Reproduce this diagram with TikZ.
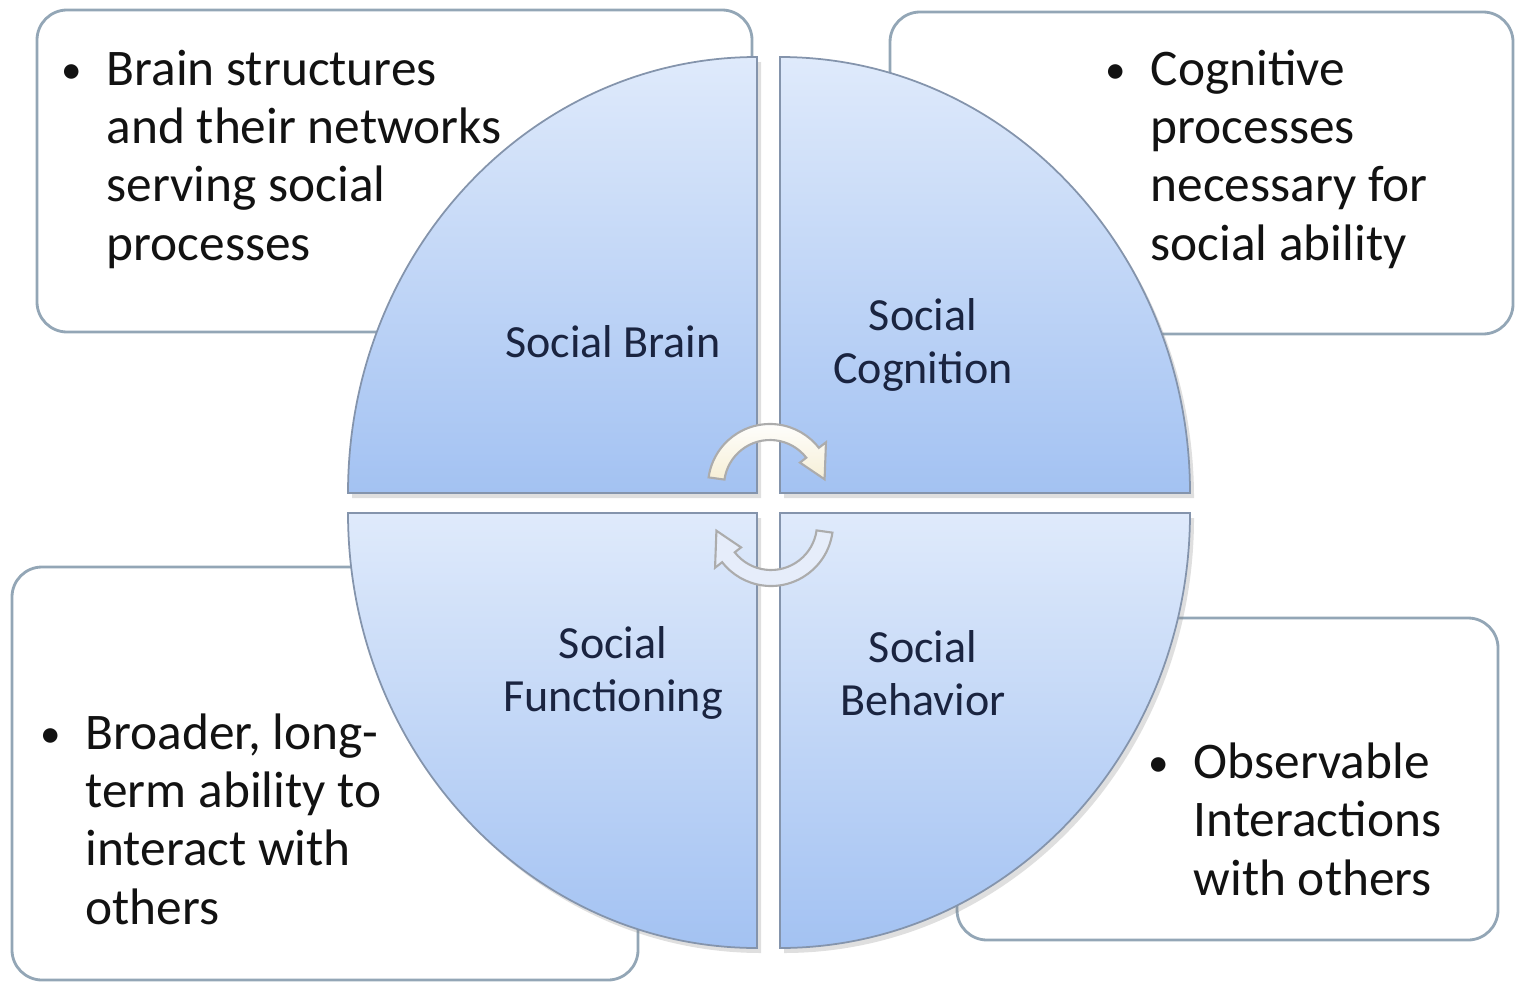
\documentclass[tikz,border=0pt]{standalone}
\usepackage{fontspec}
\setmainfont{Carlito}
\usetikzlibrary{shadows}

\definecolor{quadtop}{HTML}{DFEAFB}
\definecolor{quadbot}{HTML}{A3C2F2}
\definecolor{quadline}{HTML}{8494AC}
\definecolor{boxline}{HTML}{93A6B6}
\definecolor{labelcol}{HTML}{1A2440}
\definecolor{notecol}{HTML}{121212}
\definecolor{cream}{HTML}{F6EFD6}
\definecolor{paleblue}{HTML}{E6EDFA}

\newcommand{\notebullet}{\llap{\raisebox{0.6pt}{\scalebox{0.8}{\textbullet}}\hspace{7pt}}}

\begin{document}
\begin{tikzpicture}[x=0.01cm, y=0.01cm,
  box/.style={draw=boxline, fill=white, line width=0.8pt, rounded corners=0.3cm},
  quad/.style={draw=quadline, line width=0.5pt, top color=quadtop, bottom color=quadbot,
    drop shadow={opacity=0.25, shadow xshift=0.4mm, shadow yshift=-0.5mm}},
  notetext/.style={anchor=base west, align=left, inner sep=0pt, text=notecol,
    font=\fontsize{14.6pt}{16.5pt}\selectfont},
  quadtext/.style={align=center, inner sep=0pt, text=labelcol,
    font=\fontsize{13.1pt}{15pt}\selectfont},
  cyclearrow/.style={draw=gray!65, line width=0.6pt}]
\useasboundingbox (0,0) rectangle (1516,984);

% note boxes behind the circle
\draw[box] (37,652) rectangle (752,974);
\draw[box] (890,650) rectangle (1513,972);
\draw[box] (12,4) rectangle (638,417);
\draw[box] (957,44) rectangle (1498,366);

% notes sit on the baseline of their last line
\node[notetext] (brainNote) at (106,724) {\notebullet Brain structures\\and their networks\\serving social\\processes};
\node[notetext] (cognitionNote) at (1150,724) {\notebullet Cognitive\\processes\\necessary for\\social ability};
\node[notetext] (functioningNote) at (85,60) {\notebullet Broader, long-\\term ability to\\interact with\\others};
\node[notetext] (behaviorNote) at (1193,89) {\notebullet Observable\\Interactions\\with others};

% four quarters of the circle
\draw[quad] (757,491) -- (348,491) arc[start angle=180, end angle=90, x radius=409, y radius=436] -- cycle;
\draw[quad] (780,491) -- (780,927) arc[start angle=90, end angle=0, x radius=410, y radius=436] -- cycle;
\draw[quad] (757,471) -- (757,36) arc[start angle=270, end angle=180, x radius=409, y radius=435] -- cycle;
\draw[quad] (780,471) -- (1190,471) arc[start angle=0, end angle=-90, x radius=410, y radius=435] -- cycle;

\node[quadtext] (brain) at (613,642) {Social Brain};
\node[quadtext] (cognition) at (923,639) {Social\\Cognition};
\node[quadtext] (functioning) at (613,311) {Social\\Functioning};
\node[quadtext] (behavior) at (923,311) {Social\\Behavior};

% circular arrows in the middle
\begin{scope}[shift={(770,498)}]
  \draw[cyclearrow, top color=white, bottom color=cream]
    (172:62) arc[start angle=172, end angle=38, radius=62] -- (38:71) -- (7:55)
    -- (38:38) -- (38:46) arc[start angle=38, end angle=172, radius=46] -- cycle;
\end{scope}
\begin{scope}[shift={(771,460)}]
  \draw[cyclearrow, fill=paleblue]
    (-8:62) arc[start angle=-8, end angle=-142, radius=62] -- (-142:71) -- (-173:55)
    -- (-142:38) -- (-142:46) arc[start angle=-142, end angle=-8, radius=46] -- cycle;
\end{scope}
\end{tikzpicture}
\end{document}
